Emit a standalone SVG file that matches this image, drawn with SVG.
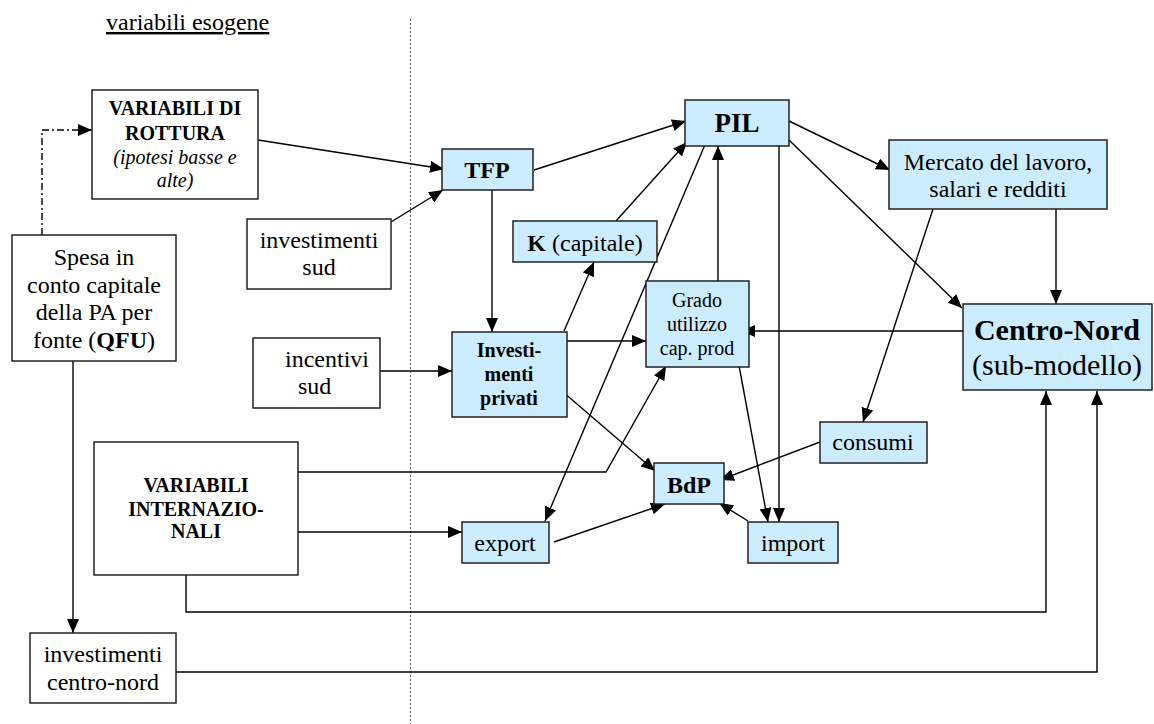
<svg xmlns="http://www.w3.org/2000/svg" width="1154" height="724" viewBox="0 0 1154 724" font-family="'Liberation Serif', 'Times New Roman', serif">
<style>
text{font-family:"Liberation Serif","Times New Roman",serif;fill:#000;text-anchor:middle}
.t24{font-size:24px}
.t20{font-size:20px}
.b{font-weight:bold}
.i{font-style:italic}
.w{fill:#fff;stroke:#222;stroke-width:1.5}
.c{fill:#CCECFF;stroke:#222;stroke-width:1.5}
.e{fill:none;stroke:#000;stroke-width:1.4}
</style>
<defs>
<marker id="a" markerUnits="userSpaceOnUse" markerWidth="14" markerHeight="12" viewBox="0 0 14 12" refX="14" refY="6" orient="auto">
<path d="M0,0 L14,6 L0,12 z" fill="#000"/>
</marker>
</defs>
<rect width="1154" height="724" fill="#fff"/>
<text class="t24" x="106" y="30" style="text-anchor:start;text-decoration:underline">variabili esogene</text>
<line x1="410.5" y1="19" x2="410.5" y2="724" stroke="#555" stroke-width="1" stroke-dasharray="2,2"/>

<g id="connectors">
<path class="e" d="M42,235 V130 H92" stroke-dasharray="7,3,2,3" marker-end="url(#a)"/>
<path class="e" d="M258,140 L444,169" marker-end="url(#a)"/>
<path class="e" d="M391,222 L443,190" marker-end="url(#a)"/>
<path class="e" d="M534,170 L686,121" marker-end="url(#a)"/>
<path class="e" d="M492,190 V332" marker-end="url(#a)"/>
<path class="e" d="M380,371 H452" marker-end="url(#a)"/>
<path class="e" d="M564,331 L594,262" marker-end="url(#a)"/>
<path class="e" d="M616,221 L687,142" marker-end="url(#a)"/>
<path class="e" d="M564,341 H646" marker-end="url(#a)"/>
<path class="e" d="M563,392 L655,471" marker-end="url(#a)"/>
<path class="e" d="M718,281 V146" marker-end="url(#a)"/>
<path class="e" d="M707,140 L545,521" marker-end="url(#a)"/>
<path class="e" d="M779,146 V522" marker-end="url(#a)"/>
<path class="e" d="M738,360 L768,522" marker-end="url(#a)"/>
<path class="e" d="M789,121 L890,170" marker-end="url(#a)"/>
<path class="e" d="M789,140 L962,308" marker-end="url(#a)"/>
<path class="e" d="M1056,209 V304" marker-end="url(#a)"/>
<path class="e" d="M933,209 L863,422" marker-end="url(#a)"/>
<path class="e" d="M963,331 H741" marker-end="url(#a)"/>
<path class="e" d="M820,442 L720,480" marker-end="url(#a)"/>
<path class="e" d="M298,472 H606 L666,366" marker-end="url(#a)"/>
<path class="e" d="M298,532 H462" marker-end="url(#a)"/>
<path class="e" d="M554,542 L665,504" marker-end="url(#a)"/>
<path class="e" d="M748,521 L719,503" marker-end="url(#a)"/>
<path class="e" d="M186,552 V612 H1046 V391" marker-end="url(#a)"/>
<path class="e" d="M176,672 H1097 V391" marker-end="url(#a)"/>
<path class="e" d="M73,361 V633" marker-end="url(#a)"/>
</g>

<g id="rottura">
<rect class="w" x="92" y="90" width="166" height="109"/>
<text class="t20 b" x="175" y="115">VARIABILI DI</text>
<text class="t20 b" x="175" y="140">ROTTURA</text>
<text class="t20 i" x="175" y="164">(ipotesi basse e</text>
<text class="t20 i" x="175" y="187">alte)</text>
</g>
<g id="spesa">
<rect class="w" x="12" y="235" width="164" height="126"/>
<text class="t24" x="94" y="265">Spesa in</text>
<text class="t24" x="94" y="293">conto capitale</text>
<text class="t24" x="94" y="320">della PA per</text>
<text class="t24" x="94" y="348">fonte (<tspan class="b">QFU</tspan>)</text>
</g>
<g id="investimenti-sud">
<rect class="w" x="247" y="219" width="144" height="70"/>
<text class="t24" x="319" y="248">investimenti</text>
<text class="t24" x="319" y="275">sud</text>
</g>
<g id="incentivi-sud">
<rect class="w" x="253" y="338" width="127" height="70"/>
<text class="t24" x="285" y="367" style="text-anchor:start">incentivi</text>
<text class="t24" x="298" y="394" style="text-anchor:start">sud</text>
</g>
<g id="variabili-internazionali">
<rect class="w" x="94" y="442" width="204" height="133"/>
<text class="t20 b" x="196" y="492">VARIABILI</text>
<text class="t20 b" x="196" y="516">INTERNAZIO-</text>
<text class="t20 b" x="196" y="538">NALI</text>
</g>
<g id="investimenti-centro-nord">
<rect class="w" x="30" y="633" width="146" height="70"/>
<text class="t24" x="103" y="662">investimenti</text>
<text class="t24" x="103" y="690">centro-nord</text>
</g>
<g id="tfp">
<rect class="c" x="442" y="149" width="91" height="41"/>
<text class="t24 b" x="487" y="178">TFP</text>
</g>
<g id="pil">
<rect class="c" x="685" y="100" width="104" height="46"/>
<text class="b" style="font-size:27px" x="737" y="132">PIL</text>
</g>
<g id="k-capitale">
<rect class="c" x="513" y="221" width="144" height="41"/>
<text class="t24" x="585" y="251"><tspan class="b">K</tspan> (capitale)</text>
</g>
<g id="investimenti-privati">
<rect class="c" x="452" y="332" width="115" height="85"/>
<text class="t20 b" x="509" y="357">Investi-</text>
<text class="t20 b" x="509" y="381">menti</text>
<text class="t20 b" x="509" y="405">privati</text>
</g>
<g id="grado-utilizzo">
<rect class="c" x="646" y="281" width="103" height="86"/>
<text class="t20" x="697" y="307">Grado</text>
<text class="t20" x="697" y="331">utilizzo</text>
<text class="t20" x="697" y="355">cap. prod</text>
</g>
<g id="mercato-lavoro">
<rect class="c" x="889" y="140" width="218" height="69"/>
<text class="t24" x="998" y="170">Mercato del lavoro,</text>
<text class="t24" x="998" y="197">salari e redditi</text>
</g>
<g id="centro-nord">
<rect class="c" x="963" y="304" width="189" height="86"/>
<text class="b" style="font-size:30px" x="1057" y="340">Centro-Nord</text>
<text style="font-size:30px" x="1057" y="375">(sub-modello)</text>
</g>
<g id="consumi">
<rect class="c" x="820" y="422" width="107" height="41"/>
<text class="t24" x="873" y="450">consumi</text>
</g>
<g id="bdp">
<rect class="c" x="654" y="463" width="70" height="41"/>
<text class="t24 b" x="689" y="493">BdP</text>
</g>
<g id="export">
<rect class="c" x="462" y="522" width="87" height="41"/>
<text class="t24" x="505" y="551">export</text>
</g>
<g id="import">
<rect class="c" x="748" y="522" width="90" height="41"/>
<text class="t24" x="793" y="551">import</text>
</g>
</svg>
